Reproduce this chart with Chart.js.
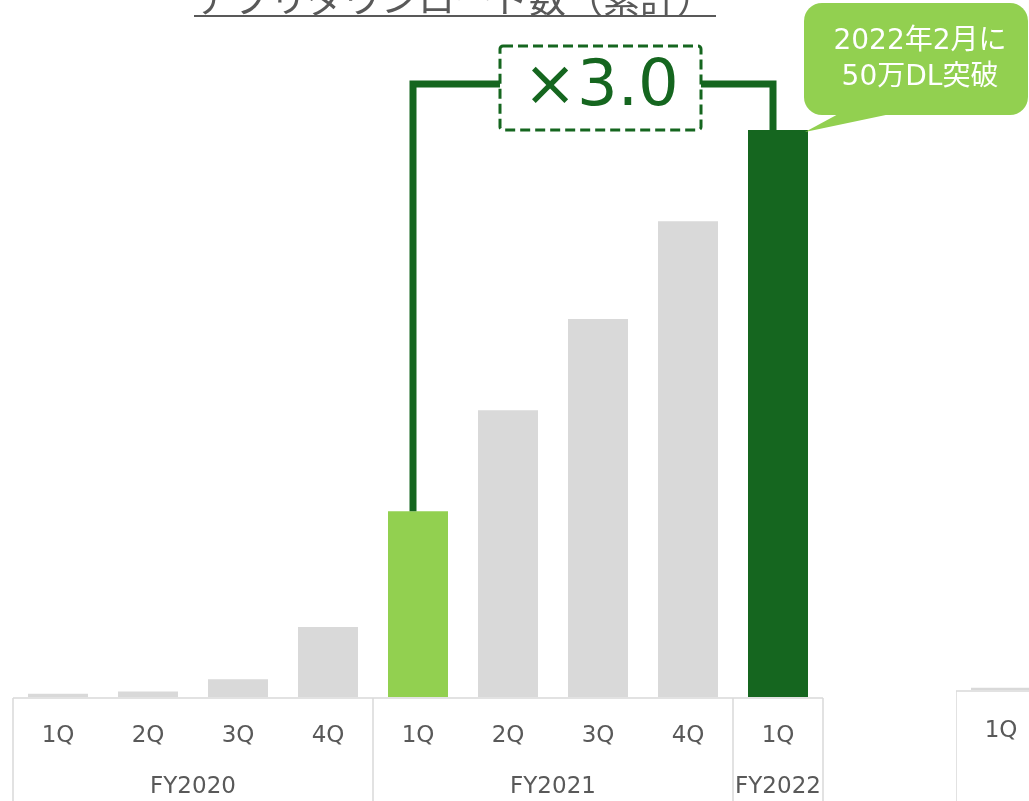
<!DOCTYPE html>
<html>
<head>
<meta charset="utf-8">
<script src="https://cdn.jsdelivr.net/npm/chart.js@4"></script>
<style>
  body { margin: 0; background: #fff; overflow: hidden; }
  #wrap { position: relative; width: 1029px; height: 801px; overflow: hidden; }
  #main, #side { position: absolute; top: 0; }
  #main { left: 0; }
  #side { left: 956px; }
</style>
</head>
<body>
<div id="wrap">
  <canvas id="side" width="200" height="801"></canvas>
  <canvas id="main" width="1029" height="801"></canvas>
</div>
<script>
// cumulative app downloads, thousands
const quarters = ['1Q', '2Q', '3Q', '4Q', '1Q', '2Q', '3Q', '4Q', '1Q'];
const fiscalYears = ['FY2020', 'FY2021', 'FY2022'];
const quartersPerYear = [4, 4, 1];
const downloads = [3, 5, 16, 63, 167, 258, 340, 428, 510];

const nextQuarters = ['1Q'];
const nextDownloads = [2];

const titleText = 'アプリダウンロード数（累計）';
const growthText = '×3.0';
const calloutLines = ['2022年2月に', '50万DL突破'];

const GRAY = '#d9d9d9';
const LIGHT_GREEN = '#92d050';
const DARK_GREEN = '#15661f';
const TEXT_GRAY = '#595959';
const LABEL_FONT = '23px "DejaVu Sans", "Noto Sans CJK JP", sans-serif';

const barColors = downloads.map((v, i) => i === 4 ? LIGHT_GREEN : i === 8 ? DARK_GREEN : GRAY);

// quarter / fiscal-year table under the bars
const quarterTable = {
  id: 'quarterTable',
  afterDatasetsDraw(chart, args, opts) {
    const { ctx, chartArea, scales: { x } } = chart;
    const labels = chart.data.labels;
    const cell = chartArea.width / labels.length;
    const lineY = chartArea.bottom + 1;
    ctx.save();
    ctx.strokeStyle = GRAY;
    ctx.lineWidth = 1.5;
    ctx.beginPath();
    ctx.moveTo(chartArea.left, lineY);
    ctx.lineTo(chartArea.right, lineY);
    let idx = 0;
    const edges = [0];
    opts.groups.forEach(n => { idx += n; edges.push(idx); });
    edges.forEach(e => {
      const ex = chartArea.left + e * cell;
      ctx.moveTo(ex, lineY);
      ctx.lineTo(ex, chart.height);
    });
    ctx.stroke();

    ctx.fillStyle = TEXT_GRAY;
    ctx.font = LABEL_FONT;
    ctx.textAlign = 'center';
    ctx.textBaseline = 'alphabetic';
    labels.forEach((lab, i) => ctx.fillText(lab, x.getPixelForValue(i), opts.quarterY));
    (opts.groupLabels || []).forEach((lab, g) => {
      const cx = chartArea.left + (edges[g] + edges[g + 1]) / 2 * cell;
      ctx.fillText(lab, cx, opts.groupY);
    });
    ctx.restore();
  }
};

// title, growth bracket and callout bubble
const annotations = {
  id: 'annotations',
  afterDraw(chart) {
    const { ctx } = chart;
    const bars = chart.getDatasetMeta(0).data;
    const from = bars[4], to = bars[8];
    ctx.save();

    // title
    ctx.font = '37px "Noto Sans CJK JP", sans-serif';
    ctx.fillStyle = TEXT_GRAY;
    ctx.textAlign = 'center';
    ctx.textBaseline = 'alphabetic';
    ctx.fillText(titleText, 455, 13);
    const tw = ctx.measureText(titleText).width;
    ctx.fillRect(455 - tw / 2 - 2, 15, tw + 4, 2);

    // bracket from 1Q FY2021 to 1Q FY2022
    const lx = from.x - 5, rx = to.x - 5, topY = 84;
    ctx.strokeStyle = DARK_GREEN;
    ctx.lineWidth = 7;
    ctx.beginPath();
    ctx.moveTo(lx, from.y);
    ctx.lineTo(lx, topY);
    ctx.lineTo(500, topY);
    ctx.moveTo(701, topY);
    ctx.lineTo(rx, topY);
    ctx.lineTo(rx, to.y);
    ctx.stroke();

    // dashed box with multiplier
    ctx.fillStyle = '#fff';
    ctx.lineWidth = 3;
    ctx.setLineDash([10, 5]);
    ctx.beginPath();
    ctx.roundRect(500, 46, 201, 84, 3);
    ctx.fill();
    ctx.stroke();
    ctx.setLineDash([]);
    ctx.fillStyle = DARK_GREEN;
    ctx.font = '64px "DejaVu Sans", sans-serif';
    ctx.fillText(growthText, 601, 105);

    // callout bubble
    ctx.fillStyle = LIGHT_GREEN;
    ctx.beginPath();
    ctx.roundRect(804, 3, 224, 112, 18);
    ctx.fill();
    ctx.beginPath();
    ctx.moveTo(842, 112);
    ctx.lineTo(900, 112);
    ctx.lineTo(to.x + 27, to.y + 2);
    ctx.closePath();
    ctx.fill();
    ctx.fillStyle = '#fff';
    ctx.font = '28px "DejaVu Sans", "Noto Sans CJK JP", sans-serif';
    ctx.fillText(calloutLines[0], 920, 49);
    ctx.fillText(calloutLines[1], 920, 85);
    ctx.restore();
  }
};

const hiddenScales = (max) => ({
  x: { display: false, grid: { display: false } },
  y: { display: false, min: 0, max: max, grid: { display: false } }
});

new Chart(document.getElementById('main'), {
  type: 'bar',
  data: {
    labels: quarters,
    datasets: [{
      data: downloads,
      backgroundColor: barColors,
      categoryPercentage: 1,
      barPercentage: 2 / 3
    }]
  },
  options: {
    responsive: false,
    animation: false,
    layout: { padding: { left: 13, right: 206, top: 30, bottom: 104 } },
    scales: hiddenScales(600),
    plugins: {
      legend: { display: false },
      tooltip: { enabled: false },
      quarterTable: { groups: quartersPerYear, groupLabels: fiscalYears, quarterY: 742, groupY: 793 }
    }
  },
  plugins: [quarterTable, annotations]
});

new Chart(document.getElementById('side'), {
  type: 'bar',
  data: {
    labels: nextQuarters,
    datasets: [{
      data: nextDownloads,
      backgroundColor: GRAY,
      categoryPercentage: 1,
      barPercentage: 2 / 3
    }]
  },
  options: {
    responsive: false,
    animation: false,
    layout: { padding: { left: 0, right: 110, top: 23, bottom: 111 } },
    scales: hiddenScales(600),
    plugins: {
      legend: { display: false },
      tooltip: { enabled: false },
      quarterTable: { groups: [1], groupLabels: [], quarterY: 737, groupY: 793 }
    }
  },
  plugins: [quarterTable]
});
</script>
</body>
</html>
